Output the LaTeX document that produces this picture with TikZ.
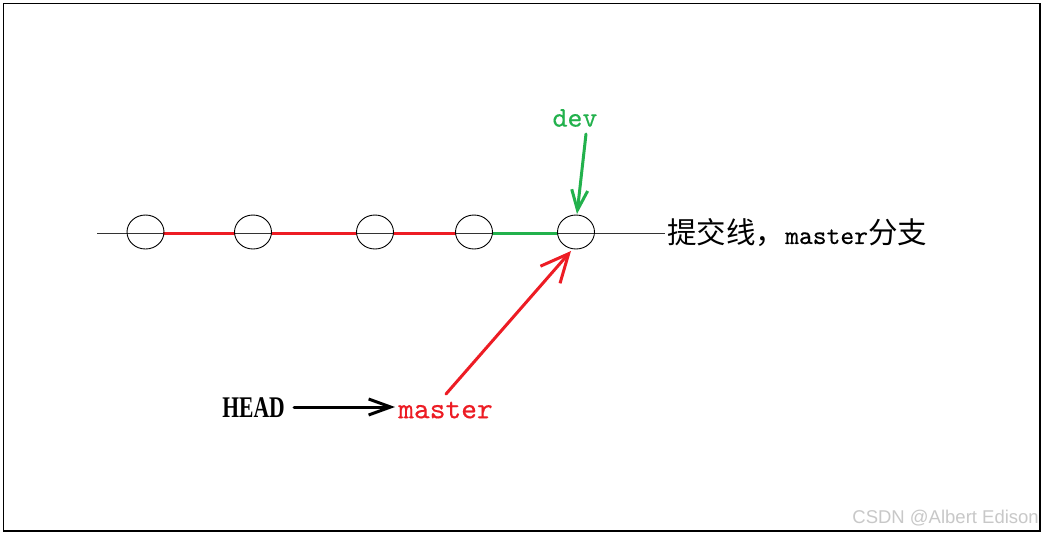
\documentclass[tikz,border=0pt]{standalone}
\usepackage{fontspec}
\setmainfont{Liberation Serif}
\newfontfamily\cjkfont{Noto Sans CJK SC}
\newfontfamily\monofont[Extension=.otf, FakeBold=0.4]{lmmono10-regular}
\newfontfamily\wmfont{Liberation Sans}
\usetikzlibrary{arrows.meta,shapes.geometric}
\definecolor{pred}{RGB}{237,28,36}
\definecolor{pgreen}{RGB}{34,177,76}
\definecolor{wmgray}{RGB}{200,200,200}
\tikzset{
  commit/.style={draw=black, line width=0.9pt, ellipse, minimum width=37pt, minimum height=34pt, inner sep=0pt},
  baseline/.style={draw=black!80, line width=1pt},
  redseg/.style={draw=pred, line width=3pt},
  greenseg/.style={draw=pgreen, line width=3pt},
  ptr/.style={line width=3pt, line cap=round},
}
\begin{document}
\begin{tikzpicture}[x=1pt,y=-1pt]
\useasboundingbox (0,0) rectangle (1044,536);
\fill[white] (0,0) rectangle (1044,536);
\draw[black, line width=1.2pt] (3.5,3.5) rectangle (1040,531);

% commit line
\coordinate (lstart) at (97,233);
\coordinate (lend) at (665,233);
\draw[baseline] (lstart) -- (lend);

% segments
\draw[redseg] (163,233) -- (235,233);
\draw[redseg] (271,233) -- (357,233);
\draw[redseg] (393,233) -- (456,233);
\draw[greenseg] (492,233) -- (558,233);

% commits
\node[commit] (c1) at (145.5,232) {};
\node[commit] (c2) at (253,232) {};
\node[commit] (c3) at (375,232) {};
\node[commit] (c4) at (474,232) {};
\node[commit] (c5) at (576,232) {};

% label
\node[anchor=west, inner sep=0pt] (lbl) at (667,233)
  {\fontsize{29.5}{31}\selectfont\cjkfont 提交线，{\fontsize{26.3}{30}\selectfont\monofont master}分支};

% dev
\node[text=pgreen, inner sep=0pt] (dev) at (575,118) {\fontsize{28.5}{30}\selectfont\monofont dev};
\coordinate (devs) at (586,134);
\coordinate (devt) at (577,214);
\draw[ptr, pgreen, -{Straight Barb[length=20pt, width=16pt, line width=3pt]}] (devs) -- (devt);

% HEAD -> master
\node[inner sep=0pt] (head) at (253.5,408) {\fontsize{30}{32}\selectfont\scalebox{0.72}[1]{\bfseries HEAD}};
\node[text=pred, inner sep=0pt] (master) at (445.5,410) {\fontsize{30}{32}\selectfont\monofont master};
\coordinate (hs) at (294,407);
\coordinate (ht) at (395,407);
\draw[ptr, black, -{Straight Barb[length=22pt, width=16pt, line width=3pt]}] (hs) -- (ht);

% master -> c5
\coordinate (ms) at (446,394);
\coordinate (mt) at (571,251);
\draw[ptr, pred, -{Straight Barb[length=28pt, width=26pt, line width=3pt]}] (ms) -- (mt);

% watermark
\node[anchor=east, text=wmgray, inner sep=0pt] (wm) at (1039,518) {\fontsize{18.5}{20}\selectfont\wmfont CSDN @Albert Edison};
\end{tikzpicture}
\end{document}
